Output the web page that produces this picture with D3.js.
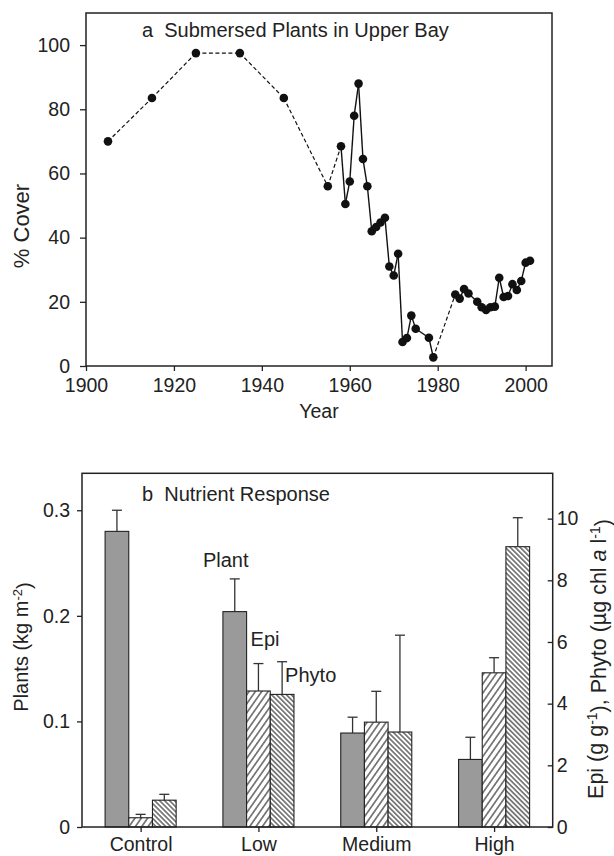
<!DOCTYPE html>
<html>
<head>
<meta charset="utf-8">
<script src="https://cdn.jsdelivr.net/npm/d3@7"></script>
<style>
  body { margin: 0; background: #fff; }
  svg { display: block; font-family: "Liberation Sans", Arial, Helvetica, sans-serif; }
  text { fill: #222; }
</style>
</head>
<body>
<div id="chart"></div>
<script>
// --------------------
// DATA (a) submersed plant cover
// --------------------
const years = [1905, 1915, 1925, 1935, 1945, 1955, 1958, 1959, 1960, 1961, 1962, 1963, 1964,
  1965, 1966, 1967, 1968, 1969, 1970, 1971, 1972, 1973, 1974, 1975, 1978, 1979,
  1984, 1985, 1986, 1987, 1989, 1990, 1991, 1992, 1993, 1994, 1995, 1996, 1997,
  1998, 1999, 2000, 2001];
const cover = [70, 83.5, 97.5, 97.5, 83.5, 56, 68.5, 50.5, 57.5, 78, 88, 64.5, 56,
  42, 43.3, 44.7, 46.2, 31, 28.2, 35, 7.5, 8.7, 15.7, 11.6, 8.8, 2.7,
  22.3, 21, 24, 22.6, 20, 18.3, 17.5, 18.3, 18.5, 27.5, 21.5, 21.8, 25.5,
  23.7, 26.5, 32.2, 32.8];
// segments starting at these years are drawn dashed (sparse records)
const dashedFrom = [1905, 1915, 1925, 1935, 1945, 1955, 1979];
const yearTicks = [1900, 1920, 1940, 1960, 1980, 2000];
const coverTicks = [0, 20, 40, 60, 80, 100];

// --------------------
// DATA (b) nutrient response
// --------------------
const groups = ["Control", "Low", "Medium", "High"];
const plantMean = [0.28, 0.204, 0.089, 0.064];
const plantErr = [0.02, 0.031, 0.015, 0.021];
const epiMean = [0.3, 4.41, 3.4, 5.0];
const epiErr = [0.11, 0.89, 1.0, 0.49];
const phytoMean = [0.87, 4.3, 3.08, 9.09];
const phytoErr = [0.19, 1.06, 3.14, 0.94];
const plantTicks = [0, 0.1, 0.2, 0.3];
const rightTicks = [0, 2, 4, 6, 8, 10];

const width = 614;
const height = 856;
const ink = "#222";

const svg = d3.select("#chart")
  .append("svg")
  .attr("width", width)
  .attr("height", height);

// hatch patterns
const defs = svg.append("defs");
function hatch(id, gap, angle) {
  const p = defs.append("pattern")
    .attr("id", id)
    .attr("patternUnits", "userSpaceOnUse")
    .attr("width", gap)
    .attr("height", 10)
    .attr("patternTransform", `rotate(${angle})`);
  p.append("rect").attr("width", gap).attr("height", 10).attr("fill", "#fff");
  p.append("line")
    .attr("x1", gap / 2).attr("x2", gap / 2)
    .attr("y1", 0).attr("y2", 10)
    .attr("stroke", "#111")
    .attr("stroke-width", 1);
}
hatch("epiHatch", 5.2, 35);
hatch("phytoHatch", 3.5, -45);

function styleAxis(g) {
  g.selectAll("path").attr("stroke", "none");
  g.selectAll("line").attr("stroke", ink).attr("stroke-width", 1.3);
  g.selectAll("text").attr("fill", ink).style("font-size", "19.5px");
}

// ====================
// PANEL A
// ====================
const a = { left: 86, right: 552, top: 13, bottom: 366 };

const xA = d3.scaleLinear().domain([1900, 2006]).range([a.left, a.right]);
const yA = d3.scaleLinear().domain([0, 110]).range([a.bottom, a.top]);

svg.append("g")
  .attr("transform", `translate(0,${a.bottom})`)
  .call(d3.axisBottom(xA).tickValues(yearTicks).tickFormat(d3.format("d"))
    .tickSize(5).tickPadding(7))
  .call(styleAxis);

svg.append("g")
  .attr("transform", `translate(${a.left},0)`)
  .call(d3.axisLeft(yA).tickValues(coverTicks).tickSize(6).tickPadding(10))
  .call(styleAxis);

svg.append("rect")
  .attr("x", a.left).attr("y", a.top)
  .attr("width", a.right - a.left).attr("height", a.bottom - a.top)
  .attr("fill", "none").attr("stroke", ink).attr("stroke-width", 1.5);

const pts = years.map((y, i) => ({ year: y, v: cover[i] }));
const segs = d3.pairs(pts);
const lineA = d3.line().x(d => xA(d.year)).y(d => yA(d.v));

svg.append("g").selectAll("path")
  .data(segs)
  .join("path")
  .attr("d", d => lineA(d))
  .attr("fill", "none")
  .attr("stroke", "#111")
  .attr("stroke-width", d => dashedFrom.includes(d[0].year) ? 1.2 : 1.4)
  .attr("stroke-dasharray", d => dashedFrom.includes(d[0].year) ? "4,2.5" : null);

svg.append("g").selectAll("circle")
  .data(pts)
  .join("circle")
  .attr("cx", d => xA(d.year))
  .attr("cy", d => yA(d.v))
  .attr("r", 4.3)
  .attr("fill", "#111");

svg.append("text")
  .attr("x", 142).attr("y", 37)
  .style("font-size", "20px")
  .attr("xml:space", "preserve")
  .text("a  Submersed Plants in Upper Bay");

svg.append("text")
  .attr("transform", `translate(29,226) rotate(-90)`)
  .attr("text-anchor", "middle")
  .style("font-size", "22px")
  .text("% Cover");

svg.append("text")
  .attr("x", (a.left + a.right) / 2).attr("y", 418)
  .attr("text-anchor", "middle")
  .style("font-size", "19.5px")
  .text("Year");

// ====================
// PANEL B
// ====================
const b = { left: 82, right: 552.7, top: 473.3, bottom: 827 };

const x0 = d3.scaleBand().domain(groups)
  .range([b.left, b.right])
  .paddingInner(0.397).paddingOuter(0.196);
const x1 = d3.scaleBand().domain(["plant", "epi", "phyto"])
  .range([0, x0.bandwidth()]);
const yL = d3.scaleLinear().domain([0, 0.335]).range([b.bottom, b.top]);
const yR = d3.scaleLinear().domain([0, 11.47]).range([b.bottom, b.top]);

const bars = [];
groups.forEach((g, i) => {
  bars.push({ g, s: "plant", v: plantMean[i], e: plantErr[i], y: yL, fill: "#9a9a9a" });
  bars.push({ g, s: "epi", v: epiMean[i], e: epiErr[i], y: yR, fill: "url(#epiHatch)" });
  bars.push({ g, s: "phyto", v: phytoMean[i], e: phytoErr[i], y: yR, fill: "url(#phytoHatch)" });
});
const bx = d => x0(d.g) + x1(d.s);

// error bars (drawn first so bars cover the base)
const err = svg.append("g").attr("stroke", "#333").attr("stroke-width", 1.3);
err.selectAll("line.stem")
  .data(bars).join("line")
  .attr("class", "stem")
  .attr("x1", d => bx(d) + x1.bandwidth() / 2)
  .attr("x2", d => bx(d) + x1.bandwidth() / 2)
  .attr("y1", d => d.y(d.v))
  .attr("y2", d => d.y(d.v + d.e));
err.selectAll("line.cap")
  .data(bars).join("line")
  .attr("class", "cap")
  .attr("x1", d => bx(d) + x1.bandwidth() / 2 - 5)
  .attr("x2", d => bx(d) + x1.bandwidth() / 2 + 5)
  .attr("y1", d => d.y(d.v + d.e))
  .attr("y2", d => d.y(d.v + d.e));

svg.append("g").selectAll("rect")
  .data(bars).join("rect")
  .attr("x", bx)
  .attr("y", d => d.y(d.v))
  .attr("width", x1.bandwidth())
  .attr("height", d => b.bottom - d.y(d.v))
  .attr("fill", d => d.fill)
  .attr("stroke", ink)
  .attr("stroke-width", 1.1);

svg.append("g")
  .attr("transform", `translate(0,${b.bottom})`)
  .call(d3.axisBottom(d3.scalePoint().domain(groups)
      .range([x0(groups[0]) + x0.bandwidth() / 2, x0(groups[3]) + x0.bandwidth() / 2]))
    .tickSize(5).tickPadding(5))
  .call(styleAxis);

svg.append("g")
  .attr("transform", `translate(${b.left},0)`)
  .call(d3.axisLeft(yL).tickValues(plantTicks)
    .tickFormat(d => d === 0 ? "0" : d3.format(".1f")(d))
    .tickSize(5).tickPadding(7))
  .call(styleAxis);

svg.append("g")
  .attr("transform", `translate(${b.right},0)`)
  .call(d3.axisRight(yR).tickValues(rightTicks).tickSize(-5).tickPadding(4))
  .call(styleAxis);

svg.append("rect")
  .attr("x", b.left).attr("y", b.top)
  .attr("width", b.right - b.left).attr("height", b.bottom - b.top)
  .attr("fill", "none").attr("stroke", ink).attr("stroke-width", 1.5);

// series labels on the "Low" group
const low = bars.filter(d => d.g === "Low");
const lab = svg.append("g").style("font-size", "20px");
lab.append("text")
  .attr("x", bx(low[0]) + x1.bandwidth() / 2 - 9)
  .attr("y", yL(low[0].v + low[0].e) - 12)
  .attr("text-anchor", "middle")
  .text("Plant");
lab.append("text")
  .attr("x", bx(low[1]) + 4)
  .attr("y", yR(low[1].v + low[1].e) - 18)
  .text("Epi");
lab.append("text")
  .attr("x", bx(low[2]) + x1.bandwidth() / 2 + 3)
  .attr("y", yR(low[2].v + low[2].e) + 20)
  .text("Phyto");

svg.append("text")
  .attr("x", 142).attr("y", 501)
  .style("font-size", "20px")
  .attr("xml:space", "preserve")
  .text("b  Nutrient Response");

// left title with superscript
const tL = svg.append("text")
  .attr("transform", `translate(28,647) rotate(-90)`)
  .attr("text-anchor", "middle")
  .style("font-size", "20px");
tL.append("tspan").text("Plants (kg m");
tL.append("tspan").attr("dy", "-0.45em").style("font-size", "13px").text("-2");
tL.append("tspan").attr("dy", "0.45em").text(")");

// right title
const tR = svg.append("text")
  .attr("transform", `translate(603,659) rotate(-90)`)
  .attr("text-anchor", "middle")
  .style("font-size", "21.5px");
tR.append("tspan").text("Epi (g g");
tR.append("tspan").attr("dy", "-0.45em").style("font-size", "14px").text("-1");
tR.append("tspan").attr("dy", "0.45em").text("), Phyto (µg chl ");
tR.append("tspan").style("font-style", "italic").text("a");
tR.append("tspan").text(" l");
tR.append("tspan").attr("dy", "-0.45em").style("font-size", "14px").text("-1");
tR.append("tspan").attr("dy", "0.45em").text(")");
</script>
</body>
</html>
